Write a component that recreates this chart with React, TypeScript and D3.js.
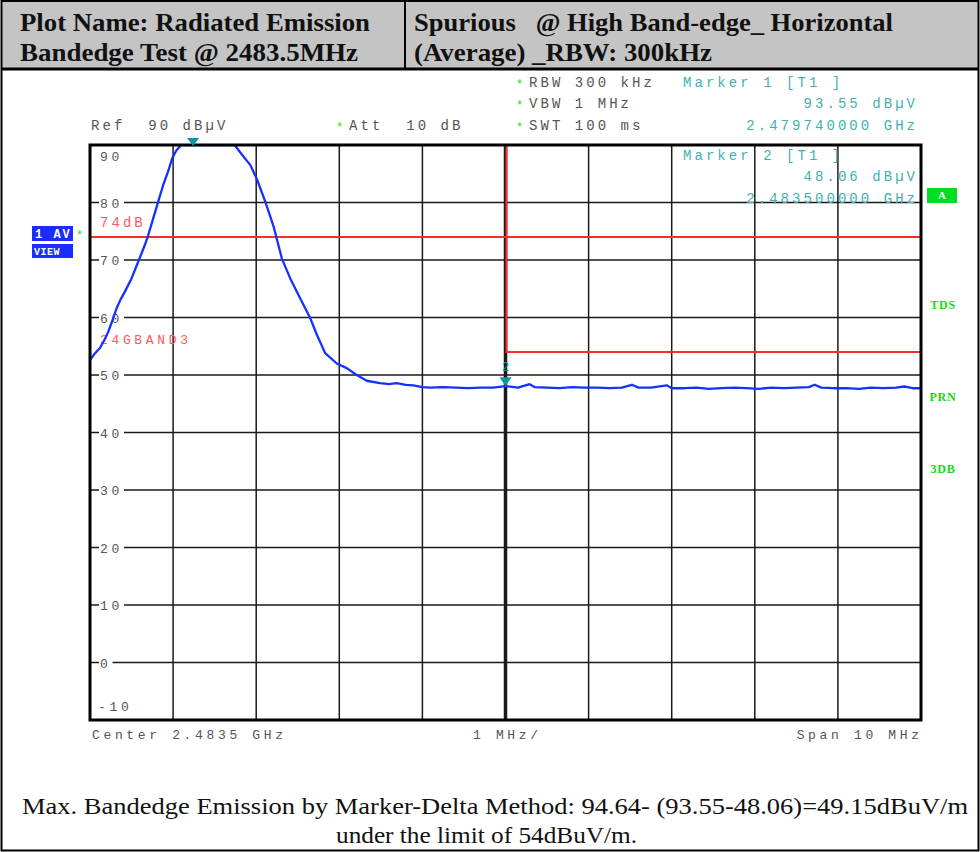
import React from 'react';
import * as d3 from 'd3';

// ---------- data ----------
const startMHz = 2478.5;
const spanMHz = 10;
const refLevel = 90;
const bottomLevel = -10;
const yTicks = [90, 80, 70, 60, 50, 40, 30, 20, 10, 0, -10];
const xDivisions = [0, 1, 2, 3, 4, 5, 6, 7, 8, 9, 10];

const traceOffsetMHz = [
  0.0, 0.05, 0.12, 0.17, 0.22, 0.27, 0.32, 0.37, 0.42, 0.5, 0.58, 0.66, 0.7, 0.76, 0.82, 0.88, 0.94, 0.99,
  1.04, 1.1, 1.24, 1.45, 1.65, 1.74, 1.83, 1.93, 2.01, 2.11, 2.21, 2.31, 2.41, 2.53, 2.65, 2.73, 2.83,
  2.97, 3.09, 3.21, 3.33, 3.49, 3.6, 3.69, 3.8, 3.89, 4.0, 4.09, 4.25, 4.4, 4.55, 4.7, 4.85, 5.0, 5.15,
  5.29, 5.35, 5.5, 5.65, 5.8, 5.95, 6.1, 6.25, 6.4, 6.52, 6.6, 6.75, 6.94, 7.0, 7.15, 7.3, 7.45, 7.6,
  7.75, 7.9, 8.05, 8.2, 8.35, 8.5, 8.65, 8.72, 8.8, 8.95, 9.1, 9.25, 9.4, 9.55, 9.7, 9.8, 9.9, 10.0,
];
const traceLevel = [
  52.6, 53.6, 54.7, 56.0, 57.5, 59.5, 61.6, 63.2, 64.5, 66.8, 69.7, 72.6, 74.3, 77.2, 80.1, 83.0, 85.4, 87.7,
  89.1, 90.6, 93.55, 93.2, 91.5, 90.0, 88.3, 86.5, 84.0, 80.1, 75.8, 70.2, 66.8, 63.3, 59.9, 57.0, 53.8,
  52.0, 51.2, 50.0, 49.0, 48.6, 48.4, 48.6, 48.3, 48.2, 47.9, 47.8, 47.9, 47.8, 47.7, 47.8, 47.8, 48.06, 47.8,
  48.4, 47.9, 47.8, 47.7, 47.9, 47.8, 47.8, 47.7, 47.8, 48.3, 47.8, 47.8, 48.2, 47.7, 47.7, 47.8, 47.6, 47.7,
  47.8, 47.7, 47.6, 47.8, 47.7, 47.8, 47.9, 48.3, 47.8, 47.7, 47.7, 47.6, 47.8, 47.7, 47.8, 48.0, 47.7, 47.7,
];

const limitLevel74 = 74;
const limitLevel54 = 54;
const bandEdgeOffsetMHz = 5.0;
const marker1 = { offset: 1.24, level: 93.55 };
const marker2 = { offset: 5.0, level: 48.06 };

const headerLeft = ['Plot Name: Radiated Emission', 'Bandedge Test @ 2483.5MHz'];
const headerRight = ['Spurious   @ High Band-edge_ Horizontal', '(Average) _RBW: 300kHz'];
const footerLines = [
  'Max. Bandedge Emission by Marker-Delta Method: 94.64- (93.55-48.06)=49.15dBuV/m',
  'under the limit of 54dBuV/m.',
];

// ---------- styles ----------
const MONO = '"Liberation Mono", "DejaVu Sans Mono", monospace';
const SERIF = '"Liberation Serif", "Times New Roman", serif';
const GRAY = '#555555';
const TEAL = '#3fb1b1';
const GREEN = '#11dd11';
const RED = '#ff2a2a';

function Mono({ x, y, children, fill = GRAY, anchor = 'start', size = 14 }: any) {
  const ls = 11.45 - 0.6 * size;
  return (
    <text
      x={anchor === 'end' ? x + ls : x}
      y={y}
      fontFamily={MONO}
      fontSize={size}
      letterSpacing={ls}
      fill={fill}
      textAnchor={anchor}
      style={{ whiteSpace: 'pre' }}
    >
      {children}
    </text>
  );
}

export default function App() {
  const W = 980;
  const H = 852;
  const plot = { left: 90, right: 921, top: 145, bottom: 720 };

  const x = d3.scaleLinear().domain([startMHz, startMHz + spanMHz]).range([plot.left, plot.right]);
  const y = d3.scaleLinear().domain([bottomLevel, refLevel]).range([plot.bottom, plot.top]).clamp(true);

  const pts: [number, number][] = traceOffsetMHz.map((o, i) => [startMHz + o, traceLevel[i]]);
  const line = d3
    .line<[number, number]>()
    .x((d) => x(d[0]))
    .y((d) => y(d[1]))
    .curve(d3.curveLinear);

  const bx = x(startMHz + bandEdgeOffsetMHz);
  const m1x = x(startMHz + marker1.offset);
  const m2x = x(startMHz + marker2.offset);
  const m2y = y(marker2.level);

  return (
    <svg
      width={W}
      height={H}
      viewBox={`0 0 ${W} ${H}`}
      style={{ position: 'absolute', left: 0, top: 0, background: '#fff' }}
    >
      <rect x={0} y={0} width={W} height={H} fill="#fff" />
      {/* header */}
      <rect x={2} y={1} width={W - 4} height={68} fill="#c4c4c4" />
      <line x1={405} x2={405} y1={1} y2={69} stroke="#000" strokeWidth={2} />
      <line x1={1} x2={W - 1} y1={69} y2={69} stroke="#000" strokeWidth={3} />
      <rect x={1.5} y={1} width={W - 3} height={H - 2.5} fill="none" stroke="#000" strokeWidth={2} />
      <text x={20} y={31} fontFamily={SERIF} fontWeight="bold" fontSize={25} textLength={350} lengthAdjust="spacingAndGlyphs" fill="#111">
        {headerLeft[0]}
      </text>
      <text x={20} y={61} fontFamily={SERIF} fontWeight="bold" fontSize={25} textLength={338} lengthAdjust="spacingAndGlyphs" fill="#111">
        {headerLeft[1]}
      </text>
      <text x={414} y={31} fontFamily={SERIF} fontWeight="bold" fontSize={25} textLength={479} lengthAdjust="spacingAndGlyphs" fill="#111" style={{ whiteSpace: 'pre' }}>
        {headerRight[0]}
      </text>
      <text x={414} y={61} fontFamily={SERIF} fontWeight="bold" fontSize={25} textLength={298} lengthAdjust="spacingAndGlyphs" fill="#111">
        {headerRight[1]}
      </text>

      {/* instrument settings */}
      <text x={516} y={88} fontSize={12} fill={GREEN} fontFamily={MONO}>*</text>
      <Mono x={529} y={87}>RBW 300 kHz</Mono>
      <text x={516} y={109} fontSize={12} fill={GREEN} fontFamily={MONO}>*</text>
      <Mono x={529} y={108}>VBW 1 MHz</Mono>
      <text x={516} y={131} fontSize={12} fill={GREEN} fontFamily={MONO}>*</text>
      <Mono x={529} y={130}>SWT 100 ms</Mono>
      <Mono x={91} y={130}>Ref  90 dBµV</Mono>
      <text x={336} y={131} fontSize={12} fill={GREEN} fontFamily={MONO}>*</text>
      <Mono x={349} y={130}>Att  10 dB</Mono>

      <Mono x={683} y={87} fill={TEAL}>Marker 1 [T1 ]</Mono>
      <Mono x={915} y={108} fill={TEAL} anchor="end">93.55 dBµV</Mono>
      <Mono x={915} y={130} fill={TEAL} anchor="end">2.479740000 GHz</Mono>

      {/* plot grid */}
      <g>
        {yTicks.slice(1, -1).map((t) => (
          <line key={'h' + t} x1={plot.left} x2={plot.right} y1={y(t)} y2={y(t)} stroke="#1a1a1a" strokeWidth={1.5} />
        ))}
        {xDivisions.slice(1, -1).map((d) => (
          <line
            key={'v' + d}
            x1={x(startMHz + d)}
            x2={x(startMHz + d)}
            y1={plot.top}
            y2={plot.bottom}
            stroke="#1a1a1a"
            strokeWidth={d === 5 ? 3.5 : 1.5}
          />
        ))}
      </g>

      {/* y labels */}
      {yTicks.map((t) => {
        const ty = t === refLevel ? y(t) + 11 : t === bottomLevel ? y(t) - 14 : y(t);
        const onLine = t !== refLevel && t !== bottomLevel;
        const label = String(t);
        return (
          <g key={'yl' + t}>
            {onLine && <rect x={99} y={ty - 6} width={label.length * 11.5 + 2} height={12} fill="#fff" />}
            <Mono x={t === bottomLevel ? 98 : 100} y={ty + 5} size={13}>
              {label}
            </Mono>
          </g>
        );
      })}

      {/* marker 2 info inside plot */}
      <Mono x={683} y={160} fill={TEAL}>Marker 2 [T1 ]</Mono>
      <Mono x={915} y={181} fill={TEAL} anchor="end">48.06 dBµV</Mono>
      <Mono x={915} y={203} fill={TEAL} anchor="end">2.483500000 GHz</Mono>

      {/* limit lines */}
      <line x1={plot.left} x2={plot.right} y1={y(limitLevel74)} y2={y(limitLevel74)} stroke={RED} strokeWidth={1.8} />
      <polyline
        points={`${bx + 1},${plot.top} ${bx + 1},${y(limitLevel54)} ${plot.right},${y(limitLevel54)}`}
        fill="none"
        stroke={RED}
        strokeWidth={2}
      />
      <Mono x={100} y={227} fill="#ff5a5a" size={14}>74dB</Mono>
      <Mono x={100} y={344} fill="#ff5a5a" size={13}>24GBAND3</Mono>

      {/* trace */}
      <defs>
        <clipPath id="plotClip">
          <rect x={plot.left} y={plot.top} width={plot.right - plot.left} height={plot.bottom - plot.top} />
        </clipPath>
      </defs>
      <path d={line(pts) || ''} fill="none" stroke="#1432ff" strokeWidth={2.3} clipPath="url(#plotClip)" strokeLinejoin="round" />

      {/* frame */}
      <rect
        x={plot.left}
        y={plot.top}
        width={plot.right - plot.left}
        height={plot.bottom - plot.top}
        fill="none"
        stroke="#000"
        strokeWidth={3}
      />

      {/* markers */}
      <path d={`M${m1x - 6},${plot.top - 7} L${m1x + 6},${plot.top - 7} L${m1x},${plot.top + 1} Z`} fill="#079a9a" />
      <path d={`M${m2x - 6},${m2y - 9} L${m2x + 6},${m2y - 9} L${m2x},${m2y} Z`} fill="#079a9a" />
      <text x={m2x} y={m2y - 15} fontFamily={MONO} fontSize={12} fill="#079a9a" textAnchor="middle">
        2
      </text>

      {/* left side labels */}
      <rect x={32} y={226} width={41} height={15} fill="#1a2cff" />
      <text x={35} y={238} fontFamily={MONO} fontSize={12} fontWeight="bold" fill="#fff" letterSpacing={2}>
        1 AV
      </text>
      <rect x={32} y={244} width={41} height={14} fill="#1a2cff" />
      <text x={34} y={255} fontFamily={MONO} fontSize={10} fontWeight="bold" fill="#fff" letterSpacing={0.5}>
        VIEW
      </text>
      <text x={76} y={239} fontSize={12} fill={GREEN} fontFamily={MONO}>*</text>

      {/* right side labels */}
      <rect x={927} y={188} width={30} height={15} fill="#00dd22" />
      <text x={942} y={199} fontFamily={SERIF} fontSize={11} fontWeight="bold" fill="#fff" textAnchor="middle">A</text>
      <text x={943} y={309} fontFamily={SERIF} fontSize={12} fontWeight="bold" fill={GREEN} textAnchor="middle" letterSpacing={0.8}>TDS</text>
      <text x={943} y={401} fontFamily={SERIF} fontSize={12} fontWeight="bold" fill={GREEN} textAnchor="middle" letterSpacing={0.8}>PRN</text>
      <text x={943} y={473} fontFamily={SERIF} fontSize={12} fontWeight="bold" fill={GREEN} textAnchor="middle" letterSpacing={0.8}>3DB</text>

      {/* bottom axis labels */}
      <Mono x={92} y={739} size={13}>Center 2.4835 GHz</Mono>
      <Mono x={473} y={739} size={13}>1 MHz/</Mono>
      <Mono x={919} y={739} size={13} anchor="end">Span 10 MHz</Mono>

      {/* footer */}
      <text x={22} y={814} fontFamily={SERIF} fontSize={23} textLength={946} lengthAdjust="spacingAndGlyphs" fill="#111">
        {footerLines[0]}
      </text>
      <text x={336} y={843} fontFamily={SERIF} fontSize={23} textLength={301} lengthAdjust="spacingAndGlyphs" fill="#111">
        {footerLines[1]}
      </text>
    </svg>
  );
}
